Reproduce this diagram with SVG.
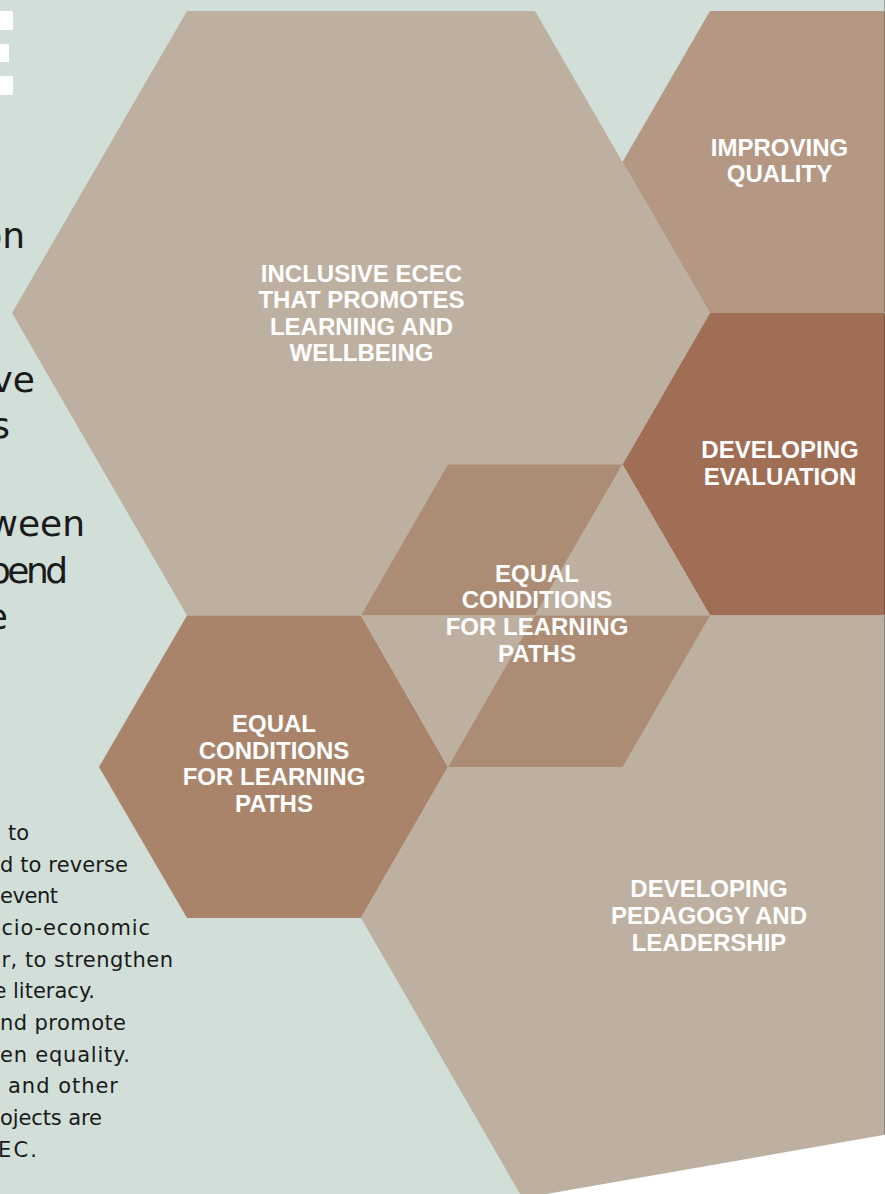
<svg xmlns="http://www.w3.org/2000/svg" width="885" height="1194" viewBox="0 0 885 1194">
  <style>
    .bg { fill: #D1DFD8; }
    .light { fill: #BEB0A0; }
    .improve { fill: #B49884; }
    .eval { fill: #A06E55; }
    .mid { fill: #AD8C76; }
    .lefthex { fill: #A9846B; }
    .big { font-family: "DejaVu Sans", "Liberation Sans", sans-serif; font-size: 36px; fill: #1a1a1a; }
    .body { font-family: "DejaVu Sans", "Liberation Sans", sans-serif; font-size: 21px; fill: #1a1a1a; }
    .label { font-family: "Liberation Sans", Arial, sans-serif; font-size: 24px; font-weight: bold; fill: #ffffff; text-anchor: middle; }
  </style>
  <rect class="bg" x="0" y="0" width="885" height="1194"/>

  <g id="marks" fill="#ffffff">
    <rect x="0" y="11" width="13" height="19"/>
    <rect x="0" y="44" width="9" height="18"/>
    <rect x="0" y="76" width="13" height="19"/>
  </g>

  <g id="body-text">
    <text class="big" x="25" y="248" text-anchor="end">on</text>
    <text class="big" x="35" y="392" text-anchor="end">ve</text>
    <text class="big" x="10" y="438" text-anchor="end">s</text>
    <text class="big" x="85" y="536" text-anchor="end">ween</text>
    <text class="big" x="-12" y="583" textLength="80" lengthAdjust="spacing">pend</text>
    <text class="big" x="8" y="629" text-anchor="end">e</text>
    <text class="body" x="29" y="840" text-anchor="end">to</text>
    <text class="body" x="0" y="871.7" textLength="128" lengthAdjust="spacing">d to reverse</text>
    <text class="body" x="0" y="903.3" textLength="58" lengthAdjust="spacing">event</text>
    <text class="body" x="1.5" y="935" textLength="148.5" lengthAdjust="spacing">cio-economic</text>
    <text class="body" x="1.5" y="966.7" textLength="171.5" lengthAdjust="spacing">r, to strengthen</text>
    <text class="body" x="95" y="998.3" text-anchor="end">e literacy.</text>
    <text class="body" x="0" y="1030" textLength="126" lengthAdjust="spacing">nd promote</text>
    <text class="body" x="0" y="1061.7" textLength="130" lengthAdjust="spacing">en equality.</text>
    <text class="body" x="8" y="1093.3" textLength="110" lengthAdjust="spacing">and other</text>
    <text class="body" x="0" y="1125" textLength="102" lengthAdjust="spacing">ojects are</text>
    <text class="body" x="-2" y="1157" textLength="39" lengthAdjust="spacing">EC.</text>
  </g>

  <g id="node-inclusive">
    <polygon class="light" points="187,11 535,11 710,313 535,615.5 187,615.5 12,313"/>
    <text class="label" x="361.5" y="281.5">INCLUSIVE ECEC</text>
    <text class="label" x="361.5" y="308">THAT PROMOTES</text>
    <text class="label" x="361.5" y="334.5">LEARNING AND</text>
    <text class="label" x="361.5" y="361">WELLBEING</text>
  </g>

  <g id="node-improving">
    <polygon class="improve" points="710,11 884,11 971,162 884,313 710,313 622.5,162"/>
    <text class="label" x="779.5" y="156">IMPROVING</text>
    <text class="label" x="779.5" y="182">QUALITY</text>
  </g>

  <g id="node-evaluation">
    <polygon class="eval" points="710,313 884,313 971,464.5 884,615.5 710,615.5 622.5,464.5"/>
    <text class="label" x="780" y="458">DEVELOPING</text>
    <text class="label" x="780" y="485">EVALUATION</text>
  </g>

  <g id="node-equal-left">
    <polygon class="lefthex" points="187,615.5 361,615.5 448,767 361,918 187,918 99,767"/>
    <text class="label" x="274" y="732.3">EQUAL</text>
    <text class="label" x="274" y="758.8">CONDITIONS</text>
    <text class="label" x="274" y="785.3">FOR LEARNING</text>
    <text class="label" x="274" y="811.8">PATHS</text>
  </g>

  <g id="node-pedagogy">
    <polygon class="light" points="535,615.5 884,615.5 1058,918 884,1220 535,1220 361,918"/>
    <text class="label" x="709" y="897.3">DEVELOPING</text>
    <text class="label" x="709" y="924">PEDAGOGY AND</text>
    <text class="label" x="709" y="950.7">LEADERSHIP</text>
  </g>

  <g id="node-equal-center">
    <polygon class="mid" points="448,464.5 622.5,464.5 535,615.5 361,615.5"/>
    <polygon class="light" points="622.5,464.5 710,615.5 535,615.5"/>
    <polygon class="light" points="361,615.5 535,615.5 448,767"/>
    <polygon class="mid" points="535,615.5 710,615.5 622.5,767 448,767"/>
    <text class="label" x="537" y="581.7">EQUAL</text>
    <text class="label" x="537" y="608.3">CONDITIONS</text>
    <text class="label" x="537" y="635">FOR LEARNING</text>
    <text class="label" x="537" y="661.7">PATHS</text>
  </g>

  <g id="connectors"/>

  <g id="page-edge">
    <rect x="884" y="0" width="1" height="1136" fill="#000000" fill-opacity="0.25"/>
    <polygon fill="#ffffff" points="546.5,1194 885,1134.8 885,1194"/>
  </g>
</svg>
